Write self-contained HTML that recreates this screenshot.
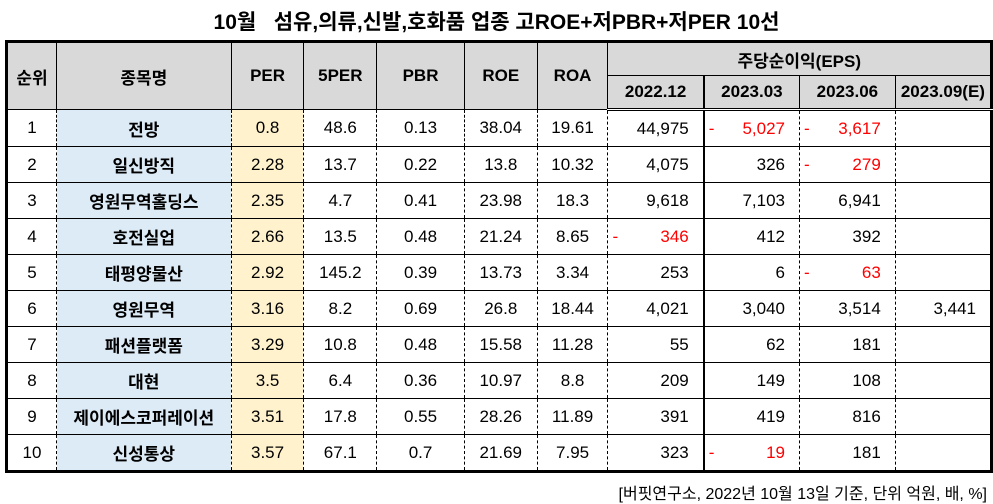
<!DOCTYPE html>
<html><head><meta charset="utf-8">
<style>
body{margin:0;width:993px;height:503px;background:#fff;font-family:"Liberation Sans","Noto Sans CJK KR",sans-serif;position:relative;overflow:hidden}
#title{position:absolute;left:0;width:993px;top:6px;text-align:center;font-weight:bold;font-size:21px;color:#000}
table{position:absolute;left:5px;top:40px;border-collapse:collapse;table-layout:fixed;border:3px solid #000;font-size:17px}
td,th{padding:0 5px;white-space:nowrap;overflow:hidden}
th{background:#d9d9d9;border:1px solid #000;font-weight:bold;height:32px}
thead tr:last-child th{border-bottom:3px double #000}
td{height:35px;border-top:1px solid #000;border-bottom:1px solid #000;border-left:1px dashed #000;border-right:1px dashed #000;text-align:center}
td.name{background:#ddebf7;font-weight:bold}
td.per{background:#fff2cc}
td.num{text-align:right;padding-right:14px}
td.q3{border-left:2px solid #000}
.neg{color:#f00;position:relative}
.neg .m{position:absolute;left:4px}
#foot{position:absolute;right:6px;top:480px;font-size:16px;color:#000}
</style></head><body>
<div id="title">10월&nbsp;&nbsp; 섬유,의류,신발,호화품 업종 고ROE+저PBR+저PER 10선</div>
<table>
<colgroup><col style="width:50px"><col style="width:175px"><col style="width:73px"><col style="width:73px"><col style="width:88px"><col style="width:73px"><col style="width:71px"><col style="width:96px"><col style="width:96px"><col style="width:96px"><col style="width:93px"></colgroup>
<thead>
<tr>
<th rowspan="2">순위</th>
<th rowspan="2">종목명</th>
<th rowspan="2">PER</th>
<th rowspan="2">5PER</th>
<th rowspan="2">PBR</th>
<th rowspan="2">ROE</th>
<th rowspan="2">ROA</th>
<th colspan="4">주당순이익(EPS)</th>
</tr>
<tr>
<th>2022.12</th>
<th style="border-left:2px solid #000">2023.03</th>
<th>2023.06</th>
<th>2023.09(E)</th>
</tr>
</thead>
<tbody id="tb"></tbody>
</table>
<div id="foot">[버핏연구소, 2022년 10월 13일 기준, 단위 억원, 배, %]</div>
<script>
const names=["전방","일신방직","영원무역홀딩스","호전실업","태평양물산","영원무역","패션플랫폼","대현","제이에스코퍼레이션","신성통상"];
const per=["0.8","2.28","2.35","2.66","2.92","3.16","3.29","3.5","3.51","3.57"];
const per5=["48.6","13.7","4.7","13.5","145.2","8.2","10.8","6.4","17.8","67.1"];
const pbr=["0.13","0.22","0.41","0.48","0.39","0.69","0.48","0.36","0.55","0.7"];
const roe=["38.04","13.8","23.98","21.24","13.73","26.8","15.58","10.97","28.26","21.69"];
const roa=["19.61","10.32","18.3","8.65","3.34","18.44","11.28","8.8","11.89","7.95"];
const eps2212=["44,975","4,075","9,618","-346","253","4,021","55","209","391","323"];
const eps2303=["-5,027","326","7,103","412","6","3,040","62","149","419","-19"];
const eps2306=["-3,617","-279","6,941","392","-63","3,514","181","108","816","181"];
const eps2309=["","","","","","3,441","","","",""];
const tb=document.getElementById('tb');
function cell(tr,txt,cls,nm){
  const td=document.createElement('td');
  
  
  if(cls)td.className=cls;
  if(txt.startsWith('-')){
    td.classList.add('neg');
    td.innerHTML='<span class="m">-</span>'+txt.slice(1);
  } else td.textContent=txt;
  tr.appendChild(td);
}
for(let i=0;i<names.length;i++){
  const tr=document.createElement('tr');
  
  
  cell(tr,String(i+1),'','rank-cell');
  cell(tr,names[i],'name','name-cell');
  cell(tr,per[i],'per','per-cell');
  cell(tr,per5[i],'','5per-cell');
  cell(tr,pbr[i],'','pbr-cell');
  cell(tr,roe[i],'','roe-cell');
  cell(tr,roa[i],'','roa-cell');
  cell(tr,eps2212[i],'num','eps-2022-12-cell');
  cell(tr,eps2303[i],'num q3','eps-2023-03-cell');
  cell(tr,eps2306[i],'num','eps-2023-06-cell');
  cell(tr,eps2309[i],'num','eps-2023-09e-cell');
  tb.appendChild(tr);
}
</script>
</body></html>
